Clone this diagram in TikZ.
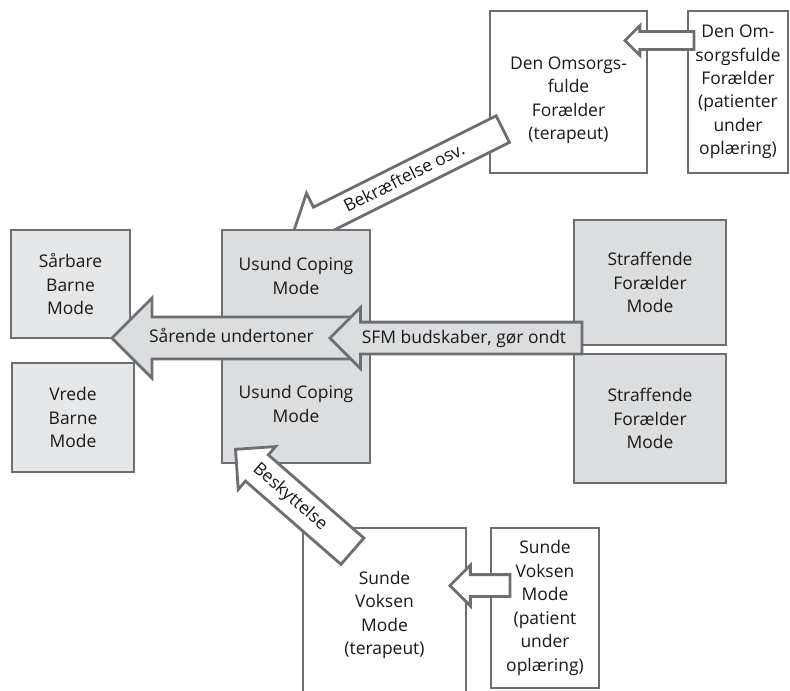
\documentclass[tikz,border=0pt]{standalone}
\usepackage{fontspec}
\setmainfont{Open Sans}
\usetikzlibrary{positioning, shapes.arrows, calc}
\definecolor{linegray}{HTML}{6D6E71}
\definecolor{modegray}{HTML}{DCDDDE}
\definecolor{childgray}{HTML}{E6E7E8}
\tikzset{
  mode/.style={
    draw=linegray,
    line width=2pt,
    rectangle,
    align=center,
    inner sep=0pt,
    fill=white,
    text=black!90,
    font=\fontsize{12.4}{16.7}\selectfont
  },
  fatarrow/.style={
    single arrow,
    shape border rotate=180,
    single arrow tip angle=90,
    draw=linegray,
    line width=2pt,
    fill=modegray,
    inner xsep=0pt,
    inner ysep=0pt,
    anchor=tip,
    text=black!90,
    font=\fontsize{12.4}{14}\selectfont
  }
}

\begin{document}
\begin{tikzpicture}[x=0.025cm, y=-0.025cm]
  \useasboundingbox (0,0) rectangle (790,691);

  % forældre øverst
  \node[mode, minimum width=3.925cm, minimum height=4.05cm, text height=2.5cm] (omsT) at (568.5,92) {Den Omsorgs-\\fulde\\Forælder\\(terapeut)};
  \node[mode, minimum width=2.5cm, minimum height=4.05cm] (omsP) at (738,92) {Den Om-\\sorgsfulde\\Forælder\\(patienter\\under\\oplæring)};

  \coordinate (bekTip) at (291,235);
  \coordinate (bekTail) at (501,130);
  \path let \p1=($(bekTip)-(bekTail)$), \n1={veclen(\x1,\y1)}, \n2={atan2(\y1,\x1)-180} in
    (bekTip) node[fatarrow, fill=white, minimum height=\n1, rotate=\n2,
      single arrow head extend=0.39cm, text height=0.47cm, text depth=0.205cm] (bek) {Bekræftelse osv.};

  % modes
  \node[mode, fill=modegray, minimum width=3.7cm, minimum height=2.3cm] (usundA) at (296,276) {Usund Coping\\Mode};
  \node[mode, fill=modegray, minimum width=3.7cm, minimum height=2.95cm] (usundB) at (296,404) {Usund Coping\\Mode};
  \node[mode, fill=childgray, minimum width=2.975cm, minimum height=2.7cm] (sarbare) at (70.5,284) {Sårbare\\Barne\\Mode};
  \node[mode, fill=childgray, minimum width=3.05cm, minimum height=2.725cm] (vrede) at (73,417.5) {Vrede\\Barne\\Mode};
  \node[mode, fill=modegray, minimum width=3.8cm, minimum height=3.125cm] (strafA) at (650,282.5) {Straffende\\Forælder\\Mode};
  \node[mode, fill=modegray, minimum width=3.8cm, minimum height=3.225cm] (strafB) at (650,418.5) {Straffende\\Forælder\\Mode};

  % sund voksen nederst
  \node[mode, minimum width=4.075cm, minimum height=4.35cm] (sundeT) at (384.5,615) {Sunde\\Voksen\\Mode\\(terapeut)};
  \node[mode, minimum width=2.7cm, minimum height=4cm] (sundeP) at (545,608) {Sunde\\Voksen\\Mode\\(patient\\under\\oplæring)};

  % pile
  \coordinate (sarTip) at (110,338);
  \coordinate (sarTail) at (350,338);
  \coordinate (sfmTip) at (328,338);
  \coordinate (sfmTail) at (580,338);
  \coordinate (besTip) at (234,448);
  \coordinate (besTail) at (351,550);
  \coordinate (omsTip) at (623,40.5);
  \coordinate (omsTail) at (692,40.5);
  \coordinate (sunTip) at (448,585.5);
  \coordinate (sunTail) at (508,585.5);

  \path let \p1=($(sarTip)-(sarTail)$), \n1={veclen(\x1,\y1)} in
    (sarTip) node[fatarrow, minimum height=\n1,
      single arrow head extend=0.475cm, text height=0.6cm, text depth=0.375cm] (sar) {Sårende undertoner\hspace*{0.55cm}};
  \path let \p1=($(sfmTip)-(sfmTail)$), \n1={veclen(\x1,\y1)} in
    (sfmTip) node[fatarrow, minimum height=\n1,
      single arrow head extend=0.3625cm, text height=0.5cm, text depth=0.225cm] (sfm) {SFM budskaber, gør ondt};
  \path let \p1=($(besTip)-(besTail)$), \n1={veclen(\x1,\y1)}, \n2={atan2(\y1,\x1)-180} in
    (besTip) node[fatarrow, fill=white, minimum height=\n1, rotate=\n2,
      single arrow head extend=0.275cm, text height=0.52cm, text depth=0.28cm] (bes) {Beskyttelse\hspace*{0.7cm}};
  \path let \p1=($(omsTip)-(omsTail)$), \n1={veclen(\x1,\y1)} in
    (omsTip) node[fatarrow, fill=white, minimum height=\n1,
      single arrow head extend=0.15cm, inner ysep=0.1875cm] (omsArrow) {};
  \path let \p1=($(sunTip)-(sunTail)$), \n1={veclen(\x1,\y1)} in
    (sunTip) node[fatarrow, fill=white, minimum height=\n1,
      single arrow head extend=0.2375cm, inner ysep=0.2375cm] (sunArrow) {};
\end{tikzpicture}
\end{document}
